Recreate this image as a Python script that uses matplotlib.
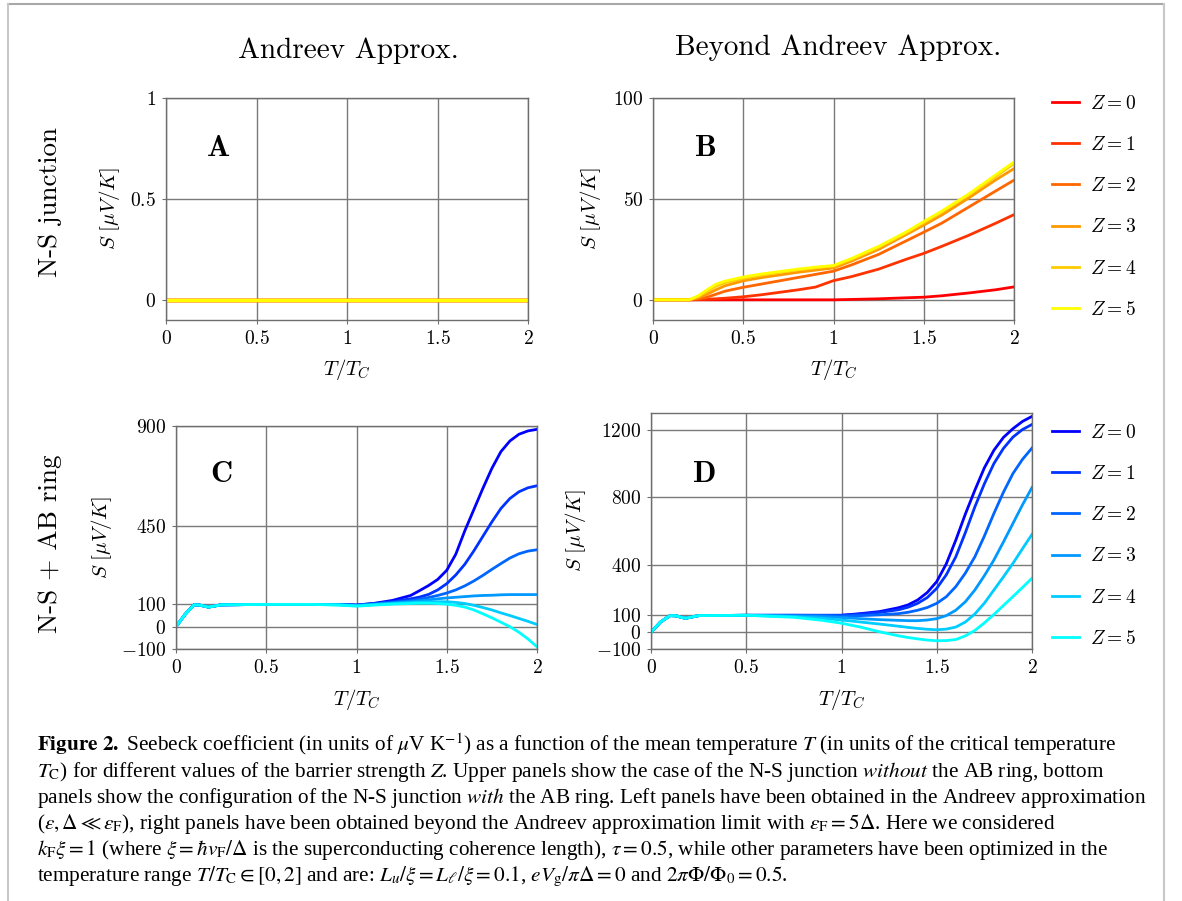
import numpy as np
import matplotlib
matplotlib.use("Agg")
from matplotlib import pyplot as plt
from matplotlib.ticker import FuncFormatter
from matplotlib.lines import Line2D

plt.rcParams["font.family"] = ["cmr10"]
plt.rcParams["mathtext.fontset"] = "cm"
plt.rcParams["axes.unicode_minus"] = False

# ---- data ----
z_labels = ["$Z = 0$", "$Z = 1$", "$Z = 2$", "$Z = 3$", "$Z = 4$", "$Z = 5$"]
warm_colors = ["#ff0000", "#ff3300", "#ff6600", "#ff9900", "#ffcc00", "#ffff00"]
cold_colors = ["#0000ff", "#0033ff", "#0066ff", "#0099ff", "#00ccff", "#00ffff"]

# panel A: Andreev approx., N-S junction (all Z give S = 0)
t_a = [0.0, 2.0]
s_a = [[0.0, 0.0]] * 6

# panel B: beyond Andreev, N-S junction
t_b = [0, 0.1, 0.2, 0.25, 0.3, 0.35, 0.4, 0.5, 0.6, 0.8, 0.9, 1.0, 1.1, 1.25, 1.4, 1.5, 1.6, 1.75, 1.9, 2.0]
s_b_z0 = [0, 0, 0, 0, 0, 0, 0, 0, 0, 0, 0, 0, 0.2, 0.5, 1.0, 1.3, 2.0, 3.4, 5.0, 6.4]
s_b_z1 = [0, 0, 0, 0.1, 0.3, 0.5, 0.8, 1.5, 2.5, 4.9, 6.3, 9.5, 11.5, 15.2, 20, 23, 26.5, 32, 38, 42.2]
s_b_z2 = [0, 0, 0, 0.5, 1.3, 2.8, 4.3, 6.2, 7.8, 11, 12.6, 14.2, 17.3, 22.5, 29.1, 33.5, 38, 46, 54, 59.3]
s_b_z3 = [0, 0, 0, 1.0, 2.8, 5.0, 7.0, 9.4, 11, 13.6, 14.7, 15.8, 19.2, 25, 32.2, 37, 42, 50.5, 59.5, 65]
s_b_z4 = [0, 0, 0, 1.6, 4.2, 6.8, 8.5, 10.6, 12.2, 14.8, 15.8, 16.7, 20, 26, 33, 38.2, 43.5, 52, 61.2, 67.5]
s_b_z5 = [0, 0, 0, 2.0, 5.0, 7.8, 9.3, 11.3, 12.8, 15.2, 16.2, 17.0, 20.5, 26.5, 33.5, 38.8, 44, 52.5, 62, 68.3]

# panels C and D: N-S + AB ring
t_cd = [0, 0.05, 0.1, 0.13, 0.18, 0.25, 0.5, 0.75, 0.9, 1.0, 1.1, 1.2, 1.3, 1.35, 1.4, 1.45,
        1.5, 1.55, 1.6, 1.65, 1.7, 1.75, 1.8, 1.85, 1.9, 1.95, 2.0]
s_c_z0 = [0, 55, 98, 97, 88, 98, 100, 100, 100, 97, 105, 118, 140, 162, 185, 212,
          253, 325, 430, 525, 620, 710, 785, 833, 863, 878, 885]
s_c_z1 = [0, 55, 98, 97, 88, 98, 100, 100, 100, 97, 104, 113, 125, 133, 145, 165,
          193, 232, 280, 340, 405, 470, 530, 575, 605, 623, 632]
s_c_z2 = [0, 55, 98, 97, 88, 98, 100, 100, 100, 96, 102, 109, 117, 123, 131, 140,
          151, 165, 183, 205, 230, 257, 283, 308, 327, 339, 345]
s_c_z3 = [0, 55, 98, 97, 88, 98, 100, 100, 99, 95, 100, 106, 112, 116, 120, 125,
          129, 132, 135, 138, 140, 141, 143, 144, 144, 144, 144]
s_c_z4 = [0, 55, 98, 97, 88, 98, 100, 100, 98, 94, 99, 104, 108, 110, 111, 112,
          112, 109, 104, 96, 86, 75, 62, 50, 37, 24, 10]
s_c_z5 = [0, 55, 98, 97, 88, 98, 100, 100, 97, 92, 97, 101, 104, 105, 105, 104,
          101, 96, 88, 75, 58, 40, 20, 0, -25, -55, -90]

s_d_z0 = [0, 60, 98, 97, 82, 98, 100, 100, 100, 100, 110, 122, 145, 162, 191, 235,
          300, 405, 546, 700, 842, 975, 1079, 1155, 1207, 1250, 1280]
s_d_z1 = [0, 60, 98, 97, 82, 98, 100, 100, 100, 100, 107, 117, 133, 148, 171, 205,
          260, 340, 447, 590, 743, 880, 1000, 1090, 1157, 1202, 1232]
s_d_z2 = [0, 60, 98, 97, 82, 98, 100, 100, 99, 96, 98, 103, 110, 118, 130, 146,
          171, 210, 270, 350, 447, 570, 704, 830, 941, 1025, 1092]
s_d_z3 = [0, 60, 98, 97, 82, 98, 100, 96, 92, 87, 80, 74, 70, 68, 68, 72,
          80, 98, 130, 180, 250, 335, 428, 535, 645, 755, 858]
s_d_z4 = [0, 60, 98, 97, 82, 98, 100, 92, 82, 72, 60, 48, 35, 28, 22, 17,
          14, 18, 30, 60, 108, 172, 250, 328, 408, 495, 580]
s_d_z5 = [0, 60, 98, 97, 82, 98, 100, 88, 70, 53, 30, 2, -22, -32, -40, -47,
          -51, -50, -44, -22, 10, 55, 105, 158, 211, 265, 320]

s_b = [s_b_z0, s_b_z1, s_b_z2, s_b_z3, s_b_z4, s_b_z5]
s_c = [s_c_z0, s_c_z1, s_c_z2, s_c_z3, s_c_z4, s_c_z5]
s_d = [s_d_z0, s_d_z1, s_d_z2, s_d_z3, s_d_z4, s_d_z5]

W, H = 1182, 901
fig = plt.figure(figsize=(W / 100, H / 100), dpi=100)


def box(left, top, right, bottom):
    return [left / W, 1 - bottom / H, (right - left) / W, (bottom - top) / H]


def setup(ax, ylim, yticks, letter, letter_xy, ylab_x, xlab_y):
    ax.set_xlim(0, 2)
    ax.set_ylim(*ylim)
    ax.set_xticks([0, 0.5, 1, 1.5, 2])
    ax.set_yticks(yticks)
    fmt = FuncFormatter(lambda v, p: "${:g}$".format(v))
    ax.xaxis.set_major_formatter(fmt)
    ax.yaxis.set_major_formatter(fmt)
    ax.grid(True, color="#7a7a7a", linewidth=1.0)
    ax.set_axisbelow(True)
    for sp in ax.spines.values():
        sp.set_color("#6e6e6e")
        sp.set_linewidth(1.0)
    ax.tick_params(direction="out", length=3, width=0.8, color="#6e6e6e",
                   labelsize=14, pad=4)
    ax.set_ylabel(r"$S\ [\mu V/K]$", fontsize=15, va="center")
    ax.yaxis.set_label_coords(ylab_x, 0.5)
    ax.set_xlabel(r"$T/T_C$", fontsize=15, va="center")
    ax.xaxis.set_label_coords(0.5, xlab_y)
    ax.text(letter_xy[0], letter_xy[1], r"$\mathbf{%s}$" % letter, transform=ax.transAxes,
            fontsize=22, ha="center", va="center")


ax_a = fig.add_axes(box(166, 98, 528, 320))
ax_b = fig.add_axes(box(653, 98, 1014, 320))
ax_c = fig.add_axes(box(176, 426, 537, 649))
ax_d = fig.add_axes(box(651, 413, 1032, 649))

for i in range(6):
    ax_a.plot(t_a, s_a[i], color=warm_colors[i], linewidth=2.4, solid_capstyle="butt")
    ax_b.plot(t_b, s_b[i], color=warm_colors[i], linewidth=2.0, label=z_labels[i])
    ax_c.plot(t_cd, s_c[i], color=cold_colors[i], linewidth=2.0)
    ax_d.plot(t_cd, s_d[i], color=cold_colors[i], linewidth=2.0, label=z_labels[i])

setup(ax_a, (-0.1, 1.0), [0, 0.5, 1], "A", (0.144, 0.775), -0.155, -0.225)
setup(ax_b, (-10, 100), [0, 50, 100], "B", (0.144, 0.775), -0.174, -0.225)
setup(ax_c, (-100, 900), [-100, 0, 100, 450, 900], "C", (0.125, 0.785), -0.205, -0.225)
setup(ax_d, (-100, 1300), [-100, 0, 100, 400, 800, 1200], "D", (0.139, 0.74), -0.197, -0.215)

for ax, top in [(ax_b, 95), (ax_d, 424)]:
    ax.legend(loc="upper left", bbox_to_anchor=(1052 / W, 1 - top / H),
              bbox_transform=fig.transFigure, frameon=False, fontsize=14,
              handlelength=1.4, handletextpad=0.55, labelspacing=1.19,
              borderpad=0, borderaxespad=0)

fig.text(348 / W, 1 - 58 / H, "Andreev Approx.", fontsize=21, ha="center", va="baseline")
fig.text(838 / W, 1 - 55 / H, "Beyond Andreev Approx.", fontsize=21, ha="center", va="baseline")
fig.text(50 / W, 1 - 202 / H, "N-S junction", fontsize=19.5, rotation=90, ha="center", va="center")
fig.text(50 / W, 1 - 544 / H, "N-S + AB ring", fontsize=19.5, rotation=90, ha="center", va="center")

caption = [
    r"$\mathbf{Figure\ 2.}$ Seebeck coefficient (in units of $\mu$V K$^{-1}$) as a function of the mean temperature $T$ (in units of the critical temperature",
    r"$T_{\rm C}$) for different values of the barrier strength $Z$. Upper panels show the case of the N-S junction $\mathit{without}$ the AB ring, bottom",
    r"panels show the configuration of the N-S junction $\mathit{with}$ the AB ring. Left panels have been obtained in the Andreev approximation",
    r"($\epsilon, \Delta \ll \epsilon_{\rm F}$), right panels have been obtained beyond the Andreev approximation limit with $\epsilon_{\rm F} = 5\Delta$. Here we considered",
    r"$k_{\rm F}\xi = 1$ (where $\xi = \hbar v_{\rm F}/\Delta$ is the superconducting coherence length), $\tau = 0.5$, while other parameters have been optimized in the",
    r"temperature range $T/T_{\rm C} \in [0, 2]$ and are: $L_u/\xi = L_\ell/\xi = 0.1$, $eV_{\rm g}/\pi\Delta = 0$ and $2\pi\Phi/\Phi_0 = 0.5$.",
]
for k, line in enumerate(caption):
    fig.text(37 / W, 1 - (751 + 26 * k) / H, line, fontsize=15.3, family="Liberation Serif",
             math_fontfamily="stix", ha="left", va="baseline")

# light frame around the figure
fig.add_artist(Line2D([8 / W, 1164 / W], [1 - 4 / H, 1 - 4 / H], transform=fig.transFigure,
                      color="#a8a8a8", linewidth=1.5))
fig.add_artist(Line2D([8 / W, 8 / W], [0, 1 - 4 / H], transform=fig.transFigure,
                      color="#c8c8c8", linewidth=1.5))
fig.add_artist(Line2D([1164 / W, 1164 / W], [0, 1 - 4 / H], transform=fig.transFigure,
                      color="#c8c8c8", linewidth=1.5))

fig.savefig("out.png", dpi=100)
